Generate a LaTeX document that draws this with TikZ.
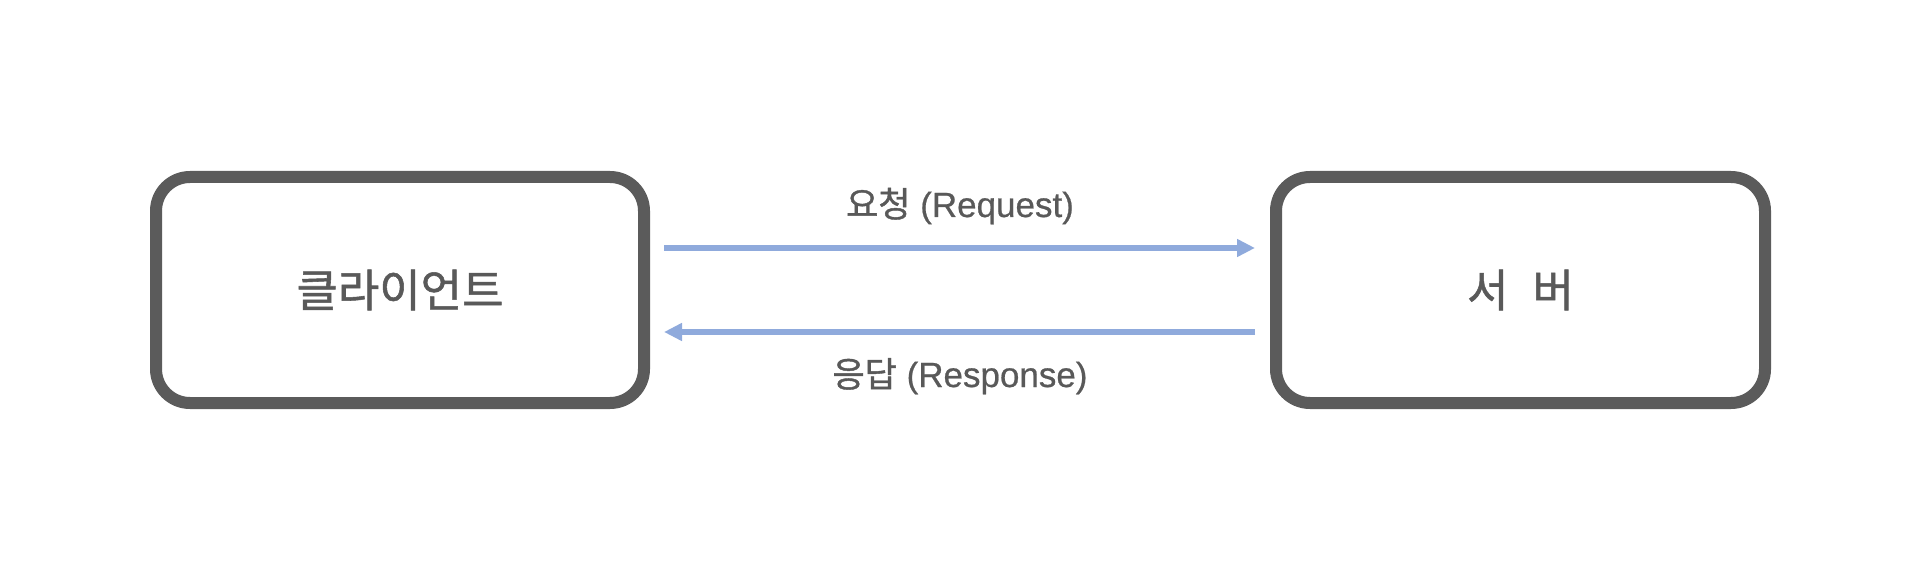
\documentclass[tikz,border=0pt]{standalone}
\usepackage{fontspec}
\setmainfont{Liberation Sans}[FakeBold=0.6]
\newfontfamily\kr{Noto Sans CJK KR}[FakeBold=1.2]
\usetikzlibrary{arrows.meta,calc}
\definecolor{boxgray}{HTML}{5B5B5B}
\definecolor{txtgray}{HTML}{595959}
\definecolor{flowblue}{HTML}{8FAADC}
\begin{document}
\begin{tikzpicture}[x=1pt,y=-1pt,
  endbox/.style={draw=boxgray, line width=12pt, rounded corners=34pt,
    minimum height=226pt, text=txtgray, inner sep=0pt,
    font=\kr\fontsize{45}{54}\selectfont},
  flow/.style={draw=flowblue, line width=6pt,
    -{Triangle[length=18pt,width=17pt]}},
  flowlabel/.style={text=txtgray, anchor=base, inner sep=0pt,
    font=\fontsize{35}{42}\selectfont}]
\useasboundingbox (0,0) rectangle (1920,585);
\node[endbox, minimum width=488pt] (client) at (400,290) {클라이언트};
\node[endbox, minimum width=489pt] (server) at (1520.5,290) {서\kern 24pt 버};
\draw[flow] ($(client.east)+(14,-42)$) -- ($(server.west)+(-15,-42)$);
\draw[flow] ($(server.west)+(-15,42)$) -- ($(client.east)+(14,42)$);
\node[flowlabel] (req) at (960,217) {{\kr 요청} (Request)};
\node[flowlabel] (res) at (960,387) {{\kr 응답} (Response)};
\end{tikzpicture}
\end{document}
